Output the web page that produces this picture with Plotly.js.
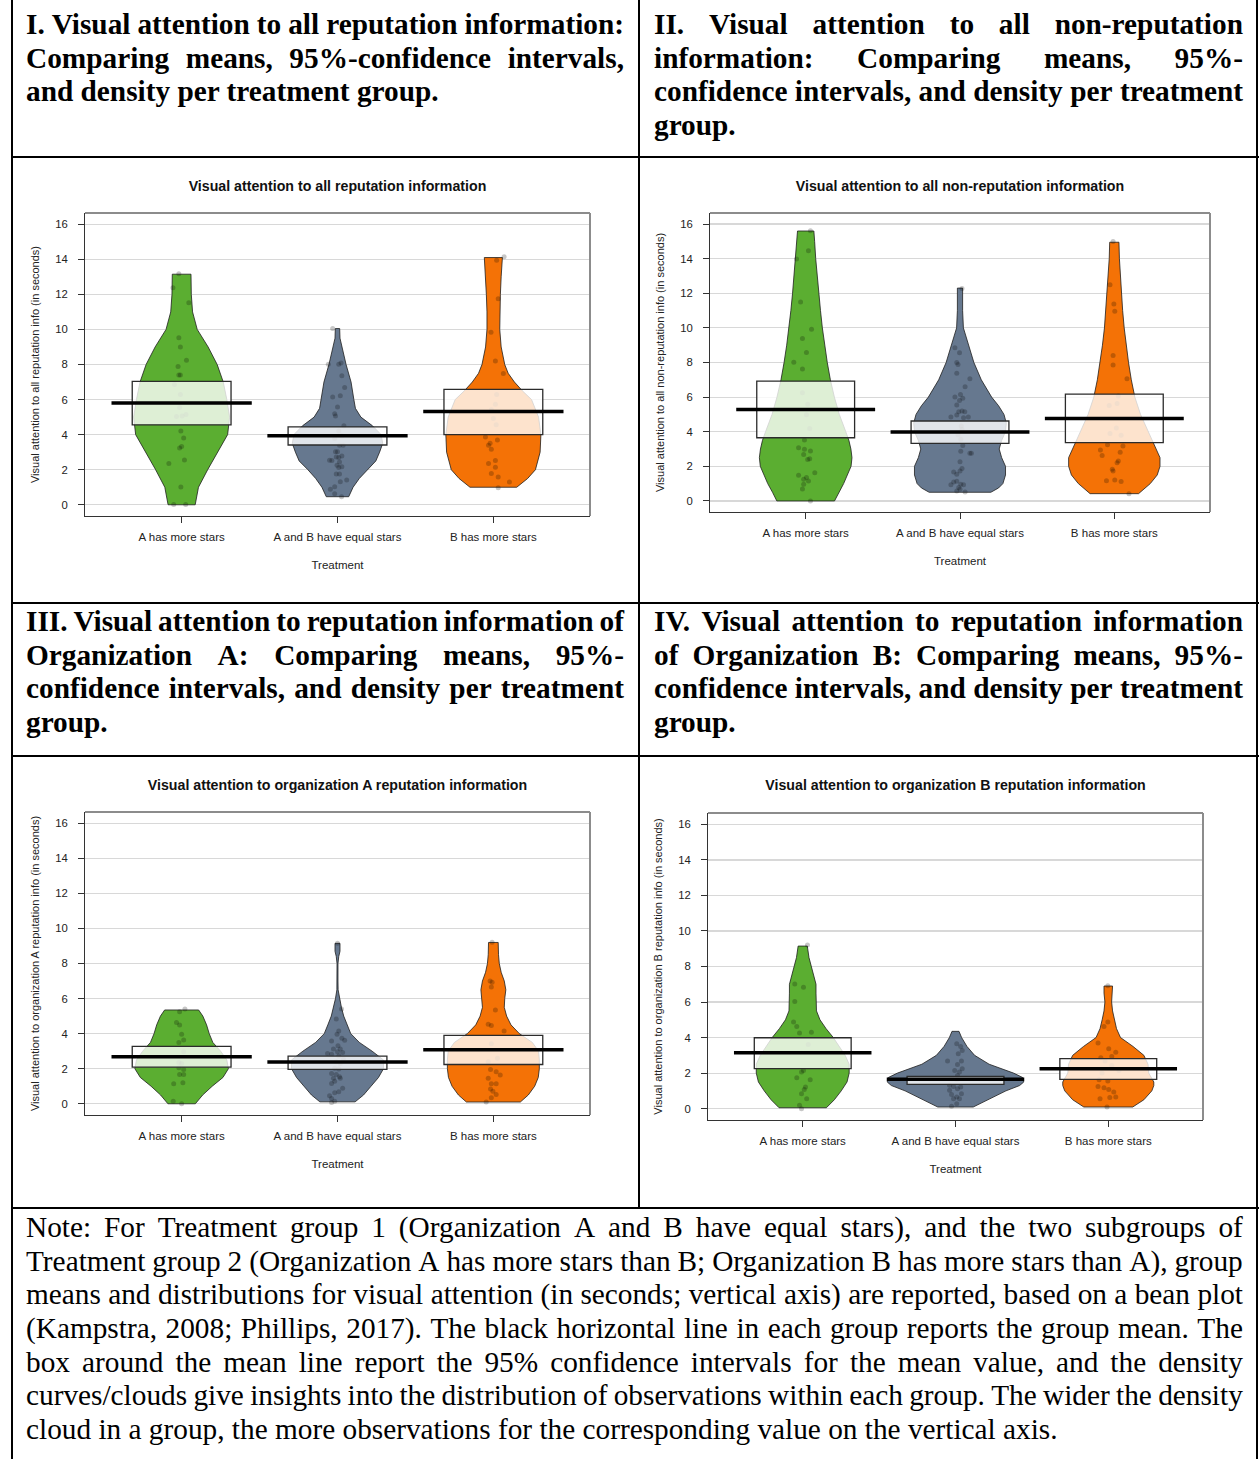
<!DOCTYPE html>
<html>
<head>
<meta charset="utf-8">
<script src="https://cdn.plot.ly/plotly-3.0.1.min.js"></script>
<style>
  html,body{margin:0;padding:0;background:#fff;}
  body{width:1259px;height:1459px;position:relative;overflow:hidden;}
  .rule{position:absolute;background:#000;}
  .txt{position:absolute;font-family:"Liberation Serif","Times New Roman",serif;font-size:29.3px;line-height:33.7px;color:#000;}
  .txt.bold{font-weight:bold;}
  .ln{display:flex;justify-content:space-between;white-space:nowrap;height:33.7px;}
  .ln.last{display:block;}
  .chart{position:absolute;}
</style>
</head>
<body>
<script>
// ---------------- TEXT ----------------
const titleI = [
  "I. Visual attention to all reputation information:",
  "Comparing means, 95%-confidence intervals,",
  "and density per treatment group."
];
const titleII = [
  "II. Visual attention to all non-reputation",
  "information: Comparing means, 95%-",
  "confidence intervals, and density per treatment",
  "group."
];
const titleIII = [
  "III. Visual attention to reputation information of",
  "Organization A: Comparing means, 95%-",
  "confidence intervals, and density per treatment",
  "group."
];
const titleIV = [
  "IV. Visual attention to reputation information",
  "of Organization B: Comparing means, 95%-",
  "confidence intervals, and density per treatment",
  "group."
];
const noteLines = [
  "Note: For Treatment group 1 (Organization A and B have equal stars), and the two subgroups of",
  "Treatment group 2 (Organization A has more stars than B; Organization B has more stars than A), group",
  "means and distributions for visual attention (in seconds; vertical axis) are reported, based on a bean plot",
  "(Kampstra, 2008; Phillips, 2017). The black horizontal line in each group reports the group mean. The",
  "box around the mean line report the 95% confidence intervals for the mean value, and the density",
  "curves/clouds give insights into the distribution of observations within each group. The wider the density",
  "cloud in a group, the more observations for the corresponding value on the vertical axis."
];

// ---------------- DATA ----------------
const categories = ["A has more stars", "A and B have equal stars", "B has more stars"];
const yTickValues = [0, 2, 4, 6, 8, 10, 12, 14, 16];
const xTitle = "Treatment";

// Panel I
const p1ChartTitle = "Visual attention to all reputation information";
const p1AxisTitle = "Visual attention to all reputation info (in seconds)";
const p1Mean = [5.80, 3.93, 5.32];
const p1CiLow = [4.56, 3.41, 4.00];
const p1CiHigh = [7.04, 4.44, 6.58];
const p1DensLevelA = [0, 1, 2, 3, 4, 5, 6, 7, 8, 9, 10, 11, 12, 13.15];
const p1DensWidthA = [0.087, 0.108, 0.167, 0.23, 0.295, 0.308, 0.29, 0.267, 0.228, 0.17, 0.10, 0.07, 0.062, 0.06];
const p1DensLevelE = [0.46, 1.0, 1.5, 2.0, 2.5, 3.0, 3.5, 4.0, 4.5, 5.0, 5.5, 6.0, 7.0, 8.0, 9.0, 9.5, 10.05];
const p1DensWidthE = [0.072, 0.10, 0.14, 0.19, 0.246, 0.27, 0.29, 0.28, 0.225, 0.15, 0.115, 0.105, 0.087, 0.055, 0.028, 0.016, 0.014];
const p1DensLevelB = [1.0, 1.5, 2.0, 3.0, 4.0, 5.0, 6.0, 6.5, 7.0, 7.5, 8.0, 9.0, 10.0, 11.0, 12.0, 13.0, 14.1];
const p1DensWidthB = [0.15, 0.22, 0.27, 0.30, 0.305, 0.29, 0.245, 0.186, 0.135, 0.095, 0.073, 0.05, 0.041, 0.041, 0.045, 0.05, 0.058];
const p1PointsA = [13.18, 12.38, 11.52, 9.53, 9.0, 8.24, 7.89, 7.40, 7.40, 6.86, 6.29, 5.55, 5.15, 5.07, 5.03, 4.21, 3.81, 3.32, 3.24, 2.56, 2.36, 1.01, 0.02, 0.02];
const p1JitterA = [-0.018, -0.056, 0.046, -0.018, -0.008, 0.031, -0.023, -0.018, -0.008, -0.046, -0.008, -0.013, 0.028, 0.003, -0.033, -0.005, 0.013, 0, -0.013, 0.018, -0.082, -0.005, -0.051, 0.026];
const p1PointsE = [10.05, 8.01, 8.09, 8.01, 7.36, 6.69, 6.14, 6.22, 5.57, 5.19, 5.07, 4.5, 4.21, 3.93, 3.78, 3.39, 3.39, 3.03, 3.03, 2.78, 2.69, 2.73, 2.54, 2.52, 2.44, 2.25, 2.17, 2.12, 1.75, 1.75, 1.41, 1.32, 0.88, 1.03, 0.63, 0.46];
const p1JitterE = [-0.031, 0.008, 0.023, -0.059, 0.028, 0.046, -0.031, 0.018, 0, -0.018, -0.013, 0.041, 0.008, 0.028, -0.018, 0.013, 0.036, 0, -0.013, 0.028, 0.008, -0.008, -0.051, -0.036, 0.013, -0.003, 0.028, 0.008, -0.008, 0.013, 0.059, 0.018, -0.046, -0.018, -0.018, 0.026];
const p1PointsB = [14.15, 13.94, 11.75, 9.84, 8.20, 7.49, 6.29, 5.74, 5.42, 4.92, 4.56, 3.87, 3.70, 3.51, 3.39, 3.17, 2.52, 2.35, 2.14, 1.79, 1.58, 1.30, 0.97];
const p1JitterB = [0.069, 0.021, 0.031, -0.015, 0.013, 0.064, 0.021, 0.013, -0.013, 0, 0.018, -0.051, 0.026, -0.021, -0.031, -0.013, 0.013, -0.031, 0.013, -0.013, 0.031, 0.103, 0.031];

// Panel II
const p2ChartTitle = "Visual attention to all non-reputation information";
const p2AxisTitle = "Visual attention to all non-reputation info (in seconds)";
const p2Mean = [5.29, 3.98, 4.77];
const p2CiLow = [3.65, 3.33, 3.37];
const p2CiHigh = [6.92, 4.62, 6.17];
const p2DensLevelA = [0, 0.5, 1, 2, 2.5, 3, 3.5, 4, 5, 6, 7, 8, 9, 10, 11, 12, 13, 14, 15, 15.6];
const p2DensWidthA = [0.187, 0.215, 0.246, 0.294, 0.30, 0.293, 0.28, 0.26, 0.218, 0.186, 0.16, 0.14, 0.123, 0.108, 0.096, 0.085, 0.073, 0.065, 0.058, 0.053];
const p2DensLevelE = [0.5, 0.75, 1.0, 1.5, 2.0, 2.5, 3.0, 3.5, 4.0, 4.5, 5.0, 5.5, 6.0, 7.0, 8.0, 9.0, 10.0, 11.0, 12.3];
const p2DensWidthE = [0.20, 0.25, 0.278, 0.295, 0.295, 0.27, 0.254, 0.27, 0.295, 0.30, 0.285, 0.25, 0.205, 0.138, 0.09, 0.055, 0.022, 0.017, 0.017];
const p2DensLevelB = [0.42, 1.0, 1.5, 2.0, 2.5, 3.0, 3.5, 4.0, 5.0, 6.0, 7.0, 8.0, 9.0, 10.0, 11.0, 12.0, 13.0, 14.0, 14.95];
const p2DensWidthB = [0.157, 0.233, 0.278, 0.296, 0.296, 0.27, 0.245, 0.22, 0.17, 0.133, 0.11, 0.092, 0.077, 0.064, 0.054, 0.046, 0.04, 0.033, 0.03];
const p2PointsA = [15.62, 14.46, 13.98, 11.5, 9.92, 9.38, 8.58, 8.02, 7.63, 6.25, 5.58, 4.98, 4.19, 3.52, 3.08, 2.98, 2.88, 2.69, 2.44, 2.40, 1.63, 1.48, 1.35, 1.25, 1.15, 0.96, 0.69, 0.0];
const p2JitterA = [0.031, 0.018, -0.059, -0.033, 0.038, -0.021, 0.005, -0.077, -0.021, -0.021, 0.013, 0.005, 0.026, -0.008, -0.046, -0.008, 0.031, -0.013, 0.026, 0.013, 0.059, -0.046, 0.005, -0.013, 0.018, -0.013, -0.021, 0.031];
const p2PointsE = [12.27, 8.85, 8.56, 8.0, 7.88, 7.38, 7.06, 6.6, 6.15, 6.0, 5.94, 5.81, 5.54, 5.19, 5.15, 5.15, 4.96, 4.85, 4.85, 4.81, 4.33, 4.13, 3.83, 3.56, 3.21, 2.87, 2.75, 2.75, 2.27, 1.87, 1.73, 1.67, 1.54, 1.10, 1.13, 0.94, 0.96, 0.94, 0.77, 0.67, 0.58, 0.52];
const p2JitterE = [0.013, -0.033, -0.003, -0.021, -0.013, -0.021, 0.064, 0.033, 0.003, -0.033, 0.018, -0.003, -0.021, 0.013, 0.031, -0.008, -0.021, -0.059, 0.054, 0.023, 0.008, 0.013, -0.013, 0.005, 0.018, 0.005, 0.064, 0.074, 0, 0.013, 0, -0.041, -0.021, -0.041, -0.021, -0.059, 0.005, 0.023, -0.008, 0, -0.021, 0.033];
const p2PointsB = [15.0, 12.5, 11.38, 10.96, 8.4, 7.85, 7.06, 6.06, 5.52, 5.63, 4.21, 3.79, 3.90, 3.25, 3.17, 2.94, 2.81, 2.63, 2.31, 2.21, 1.83, 1.73, 1.17, 1.21, 1.12, 0.42];
const p2JitterB = [-0.008, -0.028, -0.003, 0.003, -0.008, -0.008, 0.082, 0.026, -0.033, 0.018, 0.013, 0.044, -0.028, -0.044, 0.056, -0.09, 0.038, -0.079, 0.026, 0.018, -0.013, -0.008, -0.051, 0.003, 0.044, 0.095];

// Panel III
const p3ChartTitle = "Visual attention to organization A reputation information";
const p3AxisTitle = "Visual attention to organization A reputation info (in seconds)";
const p3Mean = [2.68, 2.38, 3.08];
const p3CiLow = [2.09, 1.96, 2.24];
const p3CiHigh = [3.27, 2.72, 3.90];
const p3DensLevelA = [0, 0.5, 1.0, 1.5, 2.0, 2.5, 3.0, 3.5, 4.0, 4.5, 5.0, 5.35];
const p3DensWidthA = [0.088, 0.135, 0.196, 0.265, 0.30, 0.29, 0.25, 0.20, 0.177, 0.16, 0.136, 0.109];
const p3DensLevelE = [0.11, 0.5, 1.0, 1.5, 2.0, 2.5, 3.0, 3.5, 4.0, 4.5, 5.0, 5.5, 6.0, 6.5, 7.0, 8.0, 8.4, 8.7, 9.15];
const p3DensWidthE = [0.113, 0.167, 0.215, 0.263, 0.295, 0.295, 0.222, 0.14, 0.085, 0.062, 0.04, 0.025, 0.013, 0.004, 0.003, 0.003, 0.008, 0.016, 0.016];
const p3DensLevelB = [0.1, 0.5, 1.0, 1.5, 2.0, 2.5, 3.0, 3.5, 4.0, 4.5, 5.0, 5.5, 6.0, 6.5, 7.0, 7.5, 8.0, 8.5, 9.2];
const p3DensWidthB = [0.173, 0.224, 0.265, 0.288, 0.295, 0.295, 0.29, 0.25, 0.167, 0.113, 0.085, 0.07, 0.073, 0.08, 0.07, 0.05, 0.038, 0.033, 0.031];
const p3PointsA = [5.40, 5.25, 4.64, 4.49, 3.96, 3.64, 3.50, 2.97, 2.36, 2.30, 2.05, 1.96, 1.67, 1.67, 1.14, 1.20, 0.15, 0.0];
const p3JitterA = [0.021, -0.013, -0.033, -0.013, 0, 0.013, -0.018, 0.013, -0.018, 0, -0.018, 0.013, -0.013, 0.013, -0.051, 0.008, -0.054, 0];
const p3PointsE = [9.15, 5.40, 4.83, 4.15, 3.96, 3.73, 3.58, 3.63, 3.31, 3.12, 3.12, 2.97, 2.93, 2.87, 2.82, 2.72, 2.55, 2.40, 2.30, 2.02, 1.98, 1.73, 1.67, 1.54, 1.45, 1.45, 1.29, 1.16, 0.88, 0.69, 0.63, 0.46, 0.30, 0.15, 0.08];
const p3JitterE = [0, 0.026, -0.008, 0.008, -0.003, 0.028, -0.038, 0.046, 0.003, -0.026, 0.018, 0, 0.033, -0.064, -0.038, 0.008, 0.038, -0.008, 0.018, -0.018, 0.008, -0.038, -0.008, 0.013, -0.026, 0.018, -0.018, -0.038, 0.033, 0.008, -0.018, -0.051, -0.038, -0.018, -0.038];
const p3PointsB = [9.21, 7.0, 6.93, 6.66, 5.35, 4.53, 4.47, 4.15, 3.42, 2.59, 2.40, 1.96, 1.83, 1.64, 1.45, 1.14, 1.14, 0.84, 0.72, 0.53, 0.34, 0.10];
const p3JitterB = [-0.008, -0.021, -0.008, -0.013, 0.013, -0.033, -0.013, 0.069, -0.013, 0.026, -0.033, -0.018, 0.018, 0.044, -0.033, -0.013, 0.018, -0.018, -0.003, 0.018, -0.013, -0.046];

// Panel IV
const p4ChartTitle = "Visual attention to organization B reputation information";
const p4AxisTitle = "Visual attention to organization B reputation info (in seconds)";
const p4Mean = [3.14, 1.65, 2.25];
const p4CiLow = [2.25, 1.37, 1.65];
const p4CiHigh = [3.99, 1.82, 2.81];
const p4DensLevelA = [0.05, 0.5, 1.0, 1.5, 2.0, 2.5, 3.0, 3.5, 4.0, 4.5, 5.0, 5.5, 6.0, 6.5, 7.0, 7.5, 8.0, 8.5, 9.15];
const p4DensWidthA = [0.155, 0.207, 0.252, 0.29, 0.304, 0.304, 0.278, 0.24, 0.2, 0.153, 0.113, 0.09, 0.087, 0.087, 0.087, 0.071, 0.056, 0.041, 0.03];
const p4DensLevelE = [0.09, 0.4, 0.7, 1.0, 1.3, 1.5, 1.75, 2.0, 2.5, 3.0, 3.5, 4.0, 4.35];
const p4DensWidthE = [0.116, 0.19, 0.26, 0.33, 0.42, 0.447, 0.44, 0.38, 0.22, 0.125, 0.075, 0.04, 0.023];
const p4DensLevelB = [0.09, 0.5, 1.0, 1.3, 1.5, 2.0, 2.5, 3.0, 3.5, 4.0, 4.5, 5.0, 5.5, 6.0, 6.5, 6.9];
const p4DensWidthB = [0.16, 0.233, 0.285, 0.298, 0.298, 0.265, 0.26, 0.233, 0.162, 0.08, 0.054, 0.04, 0.028, 0.022, 0.028, 0.028];
const p4PointsA = [9.21, 7.02, 6.83, 6.03, 4.87, 4.62, 4.25, 4.30, 3.61, 2.15, 2.06, 1.74, 1.63, 1.22, 1.07, 0.84, 0.56, 0.19, 0.0];
const p4JitterA = [0.031, -0.052, 0.005, -0.052, -0.06, -0.039, -0.021, 0.057, 0.036, 0.005, -0.008, -0.039, 0.049, 0.018, 0.010, -0.008, 0.026, -0.021, -0.008];
const p4PointsE = [3.65, 3.50, 3.27, 3.09, 2.68, 2.68, 2.49, 2.25, 2.15, 2.06, 1.87, 1.68, 1.63, 1.31, 1.25, 1.22, 1.12, 1.03, 0.80, 0.84, 0.65, 0.56, 0.56, 0.28, 0.13];
const p4JitterE = [0.008, 0.034, 0.044, 0.018, -0.052, 0.039, 0.013, 0.044, -0.005, 0.026, 0.013, -0.023, 0.008, -0.039, -0.013, 0.034, 0.013, -0.039, -0.026, 0.039, 0.008, -0.013, 0.026, 0.008, -0.026];
const p4PointsB = [6.92, 4.87, 4.62, 3.69, 3.37, 3.18, 2.94, 2.86, 2.68, 2.43, 2.15, 2.0, 1.63, 1.55, 1.25, 1.18, 1.07, 0.94, 0.56, 0.62, 0.65, 0.09];
const p4JitterB = [-0.003, -0.003, -0.028, -0.067, 0.003, 0.049, 0.023, -0.049, -0.021, 0.023, 0.07, -0.041, -0.06, -0.003, -0.067, -0.028, 0.003, 0.036, -0.054, 0.010, 0.049, -0.008];

// ---------------- STYLE ----------------
const beanColors = ["#5BAE31", "#66788F", "#F47206"];
const BOX_HALF = 0.317;
const MEAN_HALF = 0.45;
const SANS = "Liberation Sans, Arial, sans-serif";

// ---------------- PAGE FRAME ----------------
function rule(x, y, w, h) {
  const d = document.createElement('div');
  d.className = 'rule';
  Object.assign(d.style, {left: x + 'px', top: y + 'px', width: w + 'px', height: h + 'px'});
  document.body.appendChild(d);
}
rule(11, 0, 2, 1459);
rule(638, 0, 2, 1208);
rule(1256, 0, 2, 1459);
rule(11, 156, 1248, 2);
rule(11, 602, 1248, 2);
rule(11, 755, 1248, 2);
rule(11, 1207, 1248, 2);

function textBlock(lines, left, top, width, bold) {
  const blk = document.createElement('div');
  blk.className = 'txt' + (bold ? ' bold' : '');
  Object.assign(blk.style, {left: left + 'px', top: top + 'px', width: width + 'px'});
  lines.forEach((line, i) => {
    const d = document.createElement('div');
    if (i === lines.length - 1) {
      d.className = 'ln last';
      d.textContent = line;
    } else {
      d.className = 'ln';
      line.split(' ').forEach(w => {
        const s = document.createElement('span');
        s.textContent = w;
        d.appendChild(s);
      });
    }
    blk.appendChild(d);
  });
  document.body.appendChild(blk);
}
textBlock(titleI, 26, 8, 598, true);
textBlock(titleII, 654, 8, 589, true);
textBlock(titleIII, 26, 605, 598, true);
textBlock(titleIV, 654, 605, 589, true);
textBlock(noteLines, 26, 1211, 1217, false);

// ---------------- CHARTS ----------------
function beanPolygon(center, levels, widths) {
  const xs = [], ys = [];
  for (let i = 0; i < levels.length; i++) { xs.push(center + widths[i]); ys.push(levels[i]); }
  for (let i = levels.length - 1; i >= 0; i--) { xs.push(center - widths[i]); ys.push(levels[i]); }
  xs.push(xs[0]); ys.push(ys[0]);
  return {xs, ys};
}

const panels = [
  {left: 13, top: 158, w: 625, h: 444, m: {l: 72, r: 48, t: 55, b: 86},
   title: p1ChartTitle, ytitle: p1AxisTitle, mean: p1Mean, lo: p1CiLow, hi: p1CiHigh,
   dens: [[p1DensLevelA, p1DensWidthA], [p1DensLevelE, p1DensWidthE], [p1DensLevelB, p1DensWidthB]],
   pts: [[p1PointsA, p1JitterA], [p1PointsE, p1JitterE], [p1PointsB, p1JitterB]]},
  {left: 640, top: 158, w: 616, h: 444, m: {l: 70, r: 46, t: 55, b: 90},
   title: p2ChartTitle, ytitle: p2AxisTitle, mean: p2Mean, lo: p2CiLow, hi: p2CiHigh,
   dens: [[p2DensLevelA, p2DensWidthA], [p2DensLevelE, p2DensWidthE], [p2DensLevelB, p2DensWidthB]],
   pts: [[p2PointsA, p2JitterA], [p2PointsE, p2JitterE], [p2PointsB, p2JitterB]]},
  {left: 13, top: 757, w: 625, h: 449, m: {l: 72, r: 48, t: 55, b: 91},
   title: p3ChartTitle, ytitle: p3AxisTitle, mean: p3Mean, lo: p3CiLow, hi: p3CiHigh,
   dens: [[p3DensLevelA, p3DensWidthA], [p3DensLevelE, p3DensWidthE], [p3DensLevelB, p3DensWidthB]],
   pts: [[p3PointsA, p3JitterA], [p3PointsE, p3JitterE], [p3PointsB, p3JitterB]]},
  {left: 640, top: 757, w: 616, h: 449, m: {l: 68, r: 53, t: 56, b: 86},
   title: p4ChartTitle, ytitle: p4AxisTitle, mean: p4Mean, lo: p4CiLow, hi: p4CiHigh,
   dens: [[p4DensLevelA, p4DensWidthA], [p4DensLevelE, p4DensWidthE], [p4DensLevelB, p4DensWidthB]],
   pts: [[p4PointsA, p4JitterA], [p4PointsE, p4JitterE], [p4PointsB, p4JitterB]]}
];

panels.forEach((p, k) => {
  const div = document.createElement('div');
  div.className = 'chart';
  div.id = 'chart' + k;
  Object.assign(div.style, {left: p.left + 'px', top: p.top + 'px', width: p.w + 'px', height: p.h + 'px'});
  document.body.appendChild(div);

  const traces = [];
  p.dens.forEach((d, g) => {
    const poly = beanPolygon(g + 1, d[0], d[1]);
    traces.push({type: 'scatter', mode: 'lines', x: poly.xs, y: poly.ys, fill: 'toself',
      fillcolor: beanColors[g], line: {color: '#1e1e1e', width: 0.8}, hoverinfo: 'skip'});
  });
  p.pts.forEach((pt, g) => {
    traces.push({type: 'scatter', mode: 'markers', x: pt[1].map(j => g + 1 + j), y: pt[0],
      marker: {size: 5, color: 'rgba(0,0,0,0.22)', line: {width: 0}}, hoverinfo: 'skip'});
  });

  const shapes = [];
  for (let g = 0; g < 3; g++) {
    shapes.push({type: 'rect', xref: 'x', yref: 'y', x0: g + 1 - BOX_HALF, x1: g + 1 + BOX_HALF,
      y0: p.lo[g], y1: p.hi[g], fillcolor: 'rgba(255,255,255,0.8)', line: {color: '#2b2b2b', width: 1.3}, layer: 'above'});
  }
  for (let g = 0; g < 3; g++) {
    shapes.push({type: 'line', xref: 'x', yref: 'y', x0: g + 1 - MEAN_HALF, x1: g + 1 + MEAN_HALF,
      y0: p.mean[g], y1: p.mean[g], line: {color: '#000', width: 3.5}, layer: 'above'});
  }
  shapes.push({type: 'line', xref: 'paper', yref: 'paper', x0: 0, x1: 1, y0: 1, y1: 1, line: {color: '#8c8c8c', width: 2}});
  shapes.push({type: 'line', xref: 'paper', yref: 'paper', x0: 1, x1: 1, y0: 0, y1: 1, line: {color: '#8c8c8c', width: 2}});

  const layout = {
    width: p.w, height: p.h, margin: p.m,
    paper_bgcolor: 'rgba(0,0,0,0)', plot_bgcolor: '#fff',
    showlegend: false,
    title: {text: p.title, font: {family: SANS, size: 14.2, color: '#111', weight: 'bold'},
      x: 0.5, xref: 'paper', xanchor: 'center', y: 1 - 28 / p.h, yref: 'container', yanchor: 'middle'},
    xaxis: {range: [0.38, 3.62], tickmode: 'array', tickvals: [1, 2, 3], ticktext: categories,
      ticks: 'outside', ticklen: 6, tickwidth: 1, tickcolor: '#333', showline: true, linecolor: '#333', linewidth: 1,
      showgrid: false, zeroline: false, automargin: false, fixedrange: true, ticklabelstandoff: 4,
      tickfont: {family: SANS, size: 11.5, color: '#222'},
      title: {text: xTitle, font: {family: SANS, size: 11.5, color: '#222'}, standoff: 19}},
    yaxis: {range: [-0.64, 16.64], tickmode: 'array', tickvals: yTickValues,
      ticks: 'outside', ticklen: 6, tickwidth: 1, tickcolor: '#333', showline: true, linecolor: '#333', linewidth: 1,
      showgrid: true, gridcolor: '#d8d8d8', gridwidth: 1.2, zeroline: false, automargin: false, fixedrange: true,
      ticklabelstandoff: 8,
      tickfont: {family: SANS, size: 11.3, color: '#222'},
      title: {text: p.ytitle, font: {family: SANS, size: 11, color: '#222'}, standoff: 13}},
    shapes: shapes
  };
  Plotly.newPlot(div, traces, layout, {staticPlot: true, displayModeBar: false});
});
</script>
</body>
</html>
